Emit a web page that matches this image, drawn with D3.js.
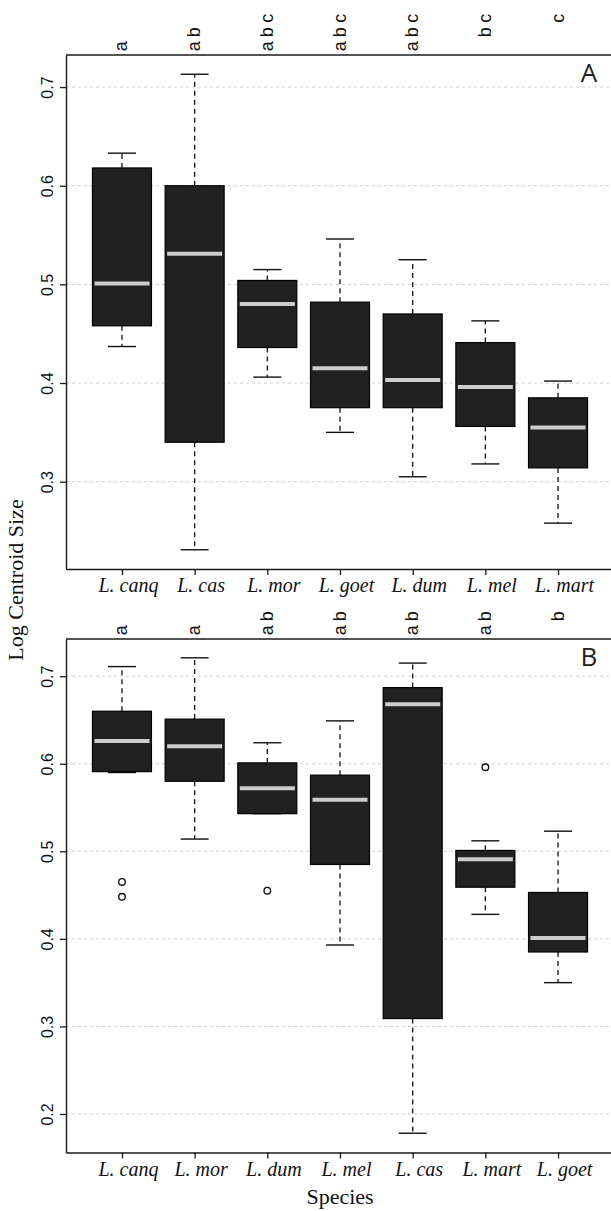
<!DOCTYPE html>
<html>
<head>
<meta charset="utf-8">
<script src="https://cdn.jsdelivr.net/npm/d3@7/dist/d3.min.js"></script>
<style>
  body { margin: 0; background: #fff; }
</style>
</head>
<body>
<div id="chart"></div>
<script>
// Panel A: species, significance letters and box statistics
const speciesA = ["L. canq", "L. cas", "L. mor", "L. goet", "L. dum", "L. mel", "L. mart"];
const lettersA = ["a", "ab", "abc", "abc", "abc", "bc", "c"];
const lowA  = [0.437, 0.231, 0.406, 0.350, 0.305, 0.318, 0.258];
const q1A   = [0.458, 0.340, 0.436, 0.375, 0.375, 0.356, 0.314];
const medA  = [0.501, 0.531, 0.480, 0.415, 0.403, 0.396, 0.355];
const q3A   = [0.618, 0.600, 0.504, 0.482, 0.470, 0.441, 0.385];
const highA = [0.633, 0.713, 0.515, 0.546, 0.525, 0.463, 0.402];
const outA  = [[], [], [], [], [], [], []];
const ticksA = [0.3, 0.4, 0.5, 0.6, 0.7];

// Panel B
const speciesB = ["L. canq", "L. mor", "L. dum", "L. mel", "L. cas", "L. mart", "L. goet"];
const lettersB = ["a", "a", "ab", "ab", "ab", "ab", "b"];
const lowB  = [0.590, 0.514, 0.543, 0.393, 0.178, 0.428, 0.350];
const q1B   = [0.591, 0.580, 0.543, 0.485, 0.309, 0.459, 0.385];
const medB  = [0.626, 0.620, 0.572, 0.559, 0.668, 0.491, 0.401];
const q3B   = [0.660, 0.651, 0.601, 0.587, 0.687, 0.501, 0.453];
const highB = [0.711, 0.721, 0.624, 0.649, 0.715, 0.512, 0.523];
const outB  = [[0.465, 0.448], [], [0.455], [], [], [0.596], []];
const ticksB = [0.2, 0.3, 0.4, 0.5, 0.6, 0.7];

const svgWidth = 611;
const svgHeight = 1211;
const plotLeft = 66;

const svg = d3.select("#chart")
    .append("svg")
    .attr("width", svgWidth)
    .attr("height", svgHeight)
    .style("font-family", "'Liberation Sans', Arial, sans-serif");

// boxes sit at 1..7, the frame runs a bit past the right edge of the picture
const xScale = d3.scaleLinear()
    .domain([0.23, 7.77])
    .range([plotLeft, 614]);

const boxW = 59;
const capW = 28;

function drawPanel(p) {
    const g = svg.append("g");
    const y = d3.scaleLinear().domain(p.yDomain).range([p.bottom, p.top]);

    // grid lines
    g.selectAll(".grid")
        .data(p.ticks)
        .enter()
        .append("line")
        .attr("x1", plotLeft)
        .attr("x2", svgWidth)
        .attr("y1", d => y(d))
        .attr("y2", d => y(d))
        .attr("stroke", "#cfcfcf")
        .attr("stroke-width", 1)
        .attr("stroke-dasharray", "3,3");

    const rows = p.species.map((s, i) => ({
        i: i, cx: xScale(i + 1),
        low: p.low[i], q1: p.q1[i], med: p.med[i], q3: p.q3[i], high: p.high[i],
        out: p.out[i], letters: p.letters[i]
    }));

    const box = g.selectAll(".box")
        .data(rows)
        .enter()
        .append("g");

    // whiskers
    box.append("line")
        .attr("x1", d => d.cx).attr("x2", d => d.cx)
        .attr("y1", d => y(d.q3)).attr("y2", d => y(d.high))
        .attr("stroke", "#111").attr("stroke-width", 1.3)
        .attr("stroke-dasharray", "5,4");
    box.append("line")
        .attr("x1", d => d.cx).attr("x2", d => d.cx)
        .attr("y1", d => y(d.q1)).attr("y2", d => y(d.low))
        .attr("stroke", "#111").attr("stroke-width", 1.3)
        .attr("stroke-dasharray", "5,4");
    box.append("line")
        .attr("x1", d => d.cx - capW / 2).attr("x2", d => d.cx + capW / 2)
        .attr("y1", d => y(d.high)).attr("y2", d => y(d.high))
        .attr("stroke", "#111").attr("stroke-width", 1.4);
    box.append("line")
        .attr("x1", d => d.cx - capW / 2).attr("x2", d => d.cx + capW / 2)
        .attr("y1", d => y(d.low)).attr("y2", d => y(d.low))
        .attr("stroke", "#111").attr("stroke-width", 1.4);

    // box
    box.append("rect")
        .attr("x", d => d.cx - boxW / 2)
        .attr("width", boxW)
        .attr("y", d => y(d.q3))
        .attr("height", d => y(d.q1) - y(d.q3))
        .attr("fill", "#212121")
        .attr("stroke", "#000")
        .attr("stroke-width", 1.2);

    // median
    box.append("line")
        .attr("x1", d => d.cx - boxW / 2 + 2).attr("x2", d => d.cx + boxW / 2 - 2)
        .attr("y1", d => y(d.med)).attr("y2", d => y(d.med))
        .attr("stroke", "#cdcdcd").attr("stroke-width", 4);

    // outliers
    box.selectAll(".out")
        .data(d => d.out.map(v => ({ cx: d.cx, v: v })))
        .enter()
        .append("circle")
        .attr("cx", d => d.cx)
        .attr("cy", d => y(d.v))
        .attr("r", 3.3)
        .attr("fill", "none")
        .attr("stroke", "#111")
        .attr("stroke-width", 1.4);

    // letters above the panel, rotated, one slot per letter (a, b, c)
    box.selectAll(".letter")
        .data(d => d.letters.split("").map(ch => ({
            lx: d.cx + 5.5,
            ly: p.top - 8.8 - (ch.charCodeAt(0) - 97) * 14,
            ch: ch
        })))
        .enter()
        .append("text")
        .attr("transform", d => `translate(${d.lx}, ${d.ly}) rotate(-90)`)
        .attr("text-anchor", "middle")
        .attr("font-size", "18px")
        .attr("fill", "#111")
        .text(d => d.ch);

    // axes
    const bottomAxis = d3.axisBottom(xScale)
        .tickValues(d3.range(1, 8))
        .tickFormat(d => p.species[d - 1])
        .tickSize(6)
        .tickSizeOuter(0);
    const xAxis = g.append("g")
        .attr("transform", `translate(0, ${p.bottom})`)
        .call(bottomAxis);
    xAxis.select(".domain").attr("stroke", "#1a1a1a").attr("stroke-width", 1.4);
    xAxis.selectAll(".tick line").attr("stroke", "#1a1a1a").attr("stroke-width", 1.3);
    xAxis.selectAll(".tick text")
        .attr("dx", 6)
        .attr("fill", "#111")
        .style("font-family", "'Liberation Serif', 'Times New Roman', serif")
        .style("font-style", "italic")
        .style("font-size", "20px");

    const leftAxis = d3.axisLeft(y)
        .tickValues(p.ticks)
        .tickFormat(d3.format(".1f"))
        .tickSize(6)
        .tickSizeOuter(0);
    const yAxis = g.append("g")
        .attr("transform", `translate(${plotLeft}, 0)`)
        .call(leftAxis);
    yAxis.select(".domain").attr("stroke", "#1a1a1a").attr("stroke-width", 1.4);
    yAxis.selectAll(".tick line").attr("stroke", "#1a1a1a").attr("stroke-width", 1.3);
    yAxis.selectAll(".tick text")
        .attr("x", 0)
        .attr("dy", null)
        .attr("transform", "translate(-13, 0) rotate(-90)")
        .attr("text-anchor", "middle")
        .attr("fill", "#111")
        .style("font-size", "16px");

    // top border
    g.append("line")
        .attr("x1", plotLeft).attr("x2", svgWidth)
        .attr("y1", p.top).attr("y2", p.top)
        .attr("stroke", "#1a1a1a").attr("stroke-width", 1.4);

    // panel label
    g.append("text")
        .attr("x", 589)
        .attr("y", p.top + 27)
        .attr("text-anchor", "middle")
        .attr("font-family", "'Open Sans', sans-serif")
        .attr("font-size", "26px")
        .attr("fill", "#222")
        .text(p.label);
}

drawPanel({
    top: 55, bottom: 569, yDomain: [0.2115, 0.7325], ticks: ticksA,
    species: speciesA, letters: lettersA,
    low: lowA, q1: q1A, med: medA, q3: q3A, high: highA, out: outA, label: "A"
});

drawPanel({
    top: 639, bottom: 1152.5, yDomain: [0.156, 0.7425], ticks: ticksB,
    species: speciesB, letters: lettersB,
    low: lowB, q1: q1B, med: medB, q3: q3B, high: highB, out: outB, label: "B"
});

// shared axis titles
svg.append("text")
    .attr("transform", "translate(22.5, 580) rotate(-90)")
    .attr("text-anchor", "middle")
    .attr("font-family", "'Liberation Serif', 'Times New Roman', serif")
    .attr("font-size", "22px")
    .attr("fill", "#111")
    .text("Log Centroid Size");

svg.append("text")
    .attr("x", 340)
    .attr("y", 1204)
    .attr("text-anchor", "middle")
    .attr("font-family", "'Liberation Serif', 'Times New Roman', serif")
    .attr("font-size", "22px")
    .attr("fill", "#111")
    .text("Species");
</script>
</body>
</html>
